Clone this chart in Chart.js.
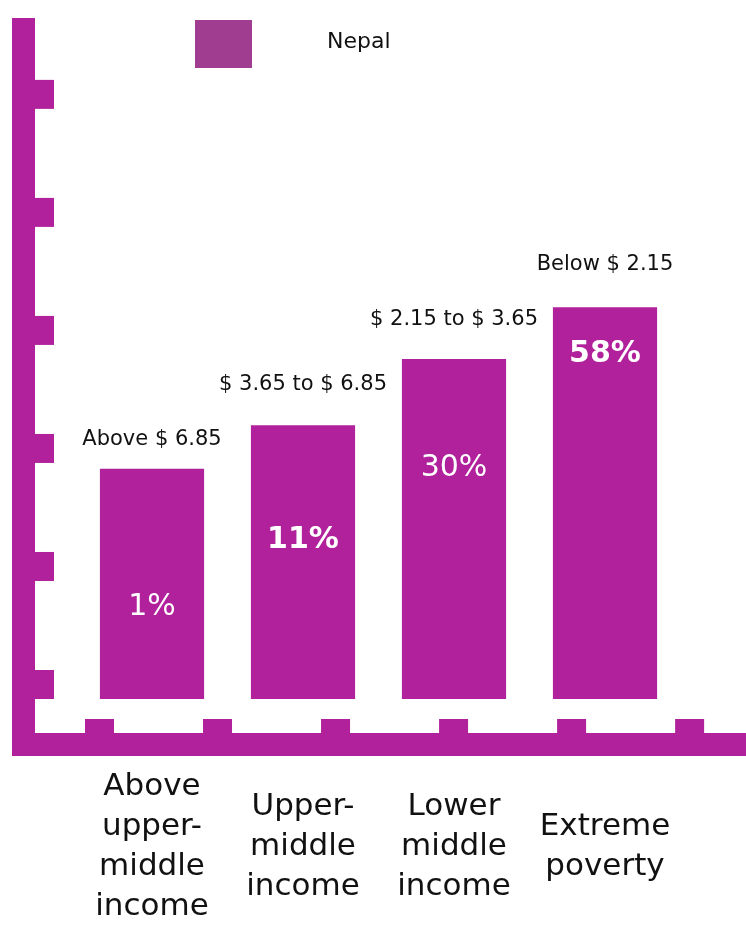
<!DOCTYPE html>
<html>
<head>
<meta charset="utf-8">
<script src="https://cdn.jsdelivr.net/npm/chart.js@4.4.1/dist/chart.umd.min.js"></script>
<style>
  html, body { margin: 0; padding: 0; background: #fff; overflow: hidden; }
  #wrap { width: 746px; height: 927px; position: relative; }
  canvas { display: block; }
</style>
</head>
<body>
<div id="wrap"><canvas id="myChart"></canvas></div>
<script>
// categories (x axis labels, split in lines)
var categories = [
    ["Above", "upper-", "middle", "income"],
    ["Upper-", "middle", "income"],
    ["Lower", "middle", "income"],
    ["Extreme", "poverty"]
];
// income ranges written above each bar
var ranges = ["Above $ 6.85", "$ 3.65 to $ 6.85", "$ 2.15 to $ 3.65", "Below $ 2.15"];
// share of population, written inside each bar
var shares = ["1%", "11%", "30%", "58%"];
// bar heights as drawn in the picture (in axis tick units)
var barHeights = [1.95, 2.32, 2.88, 3.32];
var seriesName = "Nepal";

var FONT = "'DejaVu Sans', sans-serif";
var barColor = "#b0219b";
var legendColor = "#a03d91";

// label layout
var rangeGap = [29, 41, 40, 43];          // px above bar top
var shareOffset = [138, 115, 109, 47];    // px below bar top
var shareWeight = ["normal", "bold", "normal", "bold"];

var decor = {
    id: "decor",
    beforeDatasetsDraw: function (chart) {
        var ctx = chart.ctx;
        var y = chart.scales.y;
        var area = chart.chartArea;
        var unit = y.getPixelForValue(0) - y.getPixelForValue(1);
        var axisX = 12, axisW = 23;
        var baseY = area.bottom + 34;
        ctx.save();
        ctx.fillStyle = barColor;
        // vertical axis
        ctx.fillRect(axisX, area.top, axisW, baseY + 23 - area.top);
        // horizontal axis
        ctx.fillRect(axisX, baseY, chart.width - axisX, 23);
        // y tick stubs
        for (var n = 0; n <= Math.floor(y.max); n++) {
            var py = y.getPixelForValue(n);
            ctx.fillRect(axisX + axisW, py - 29, 19, 29);
        }
        // bottom tick stubs
        for (var k = 0; k < 6; k++) {
            ctx.fillRect(85 + k * unit, baseY - 14, 29, 14);
        }
        // legend
        ctx.fillStyle = legendColor;
        ctx.fillRect(195, 20, 57, 48);
        ctx.fillStyle = "#111";
        ctx.font = "22px " + FONT;
        ctx.textAlign = "left";
        ctx.textBaseline = "middle";
        ctx.fillText(chart.data.datasets[0].label, 327, 42);
        ctx.restore();
    },
    afterDatasetsDraw: function (chart) {
        var ctx = chart.ctx;
        var meta = chart.getDatasetMeta(0);
        ctx.save();
        ctx.textAlign = "center";
        ctx.textBaseline = "middle";
        meta.data.forEach(function (bar, i) {
            ctx.fillStyle = "#111";
            ctx.font = "21px " + FONT;
            ctx.fillText(ranges[i], bar.x, bar.y - rangeGap[i]);
            ctx.fillStyle = "#fff";
            ctx.font = shareWeight[i] + " 30px " + FONT;
            ctx.fillText(shares[i], bar.x, bar.y + shareOffset[i]);
        });
        ctx.restore();
    }
};

new Chart("myChart", {
    type: "bar",
    data: {
        labels: categories,
        datasets: [{
            label: seriesName,
            data: barHeights,
            backgroundColor: barColor,
            borderWidth: 0,
            categoryPercentage: 1,
            barPercentage: 0.69
        }]
    },
    options: {
        responsive: true,
        maintainAspectRatio: false,
        animation: false,
        layout: { padding: { left: 76.5, right: 65.5, top: 18, bottom: 0 } },
        plugins: {
            legend: { display: false },
            tooltip: { enabled: false }
        },
        scales: {
            y: {
                display: false,
                min: 0,
                max: 5.77
            },
            x: {
                grid: { display: false, drawTicks: true, tickLength: 88 },
                border: { display: false },
                ticks: {
                    color: "#111",
                    padding: 0,
                    crossAlign: "center",
                    maxRotation: 0,
                    autoSkip: false,
                    font: { family: FONT, size: 31, lineHeight: "40px" }
                },
                afterFit: function (scale) {
                    scale.height = 228;
                    scale.paddingLeft = 0;
                    scale.paddingRight = 0;
                }
            }
        }
    },
    plugins: [decor]
});
</script>
</body>
</html>
